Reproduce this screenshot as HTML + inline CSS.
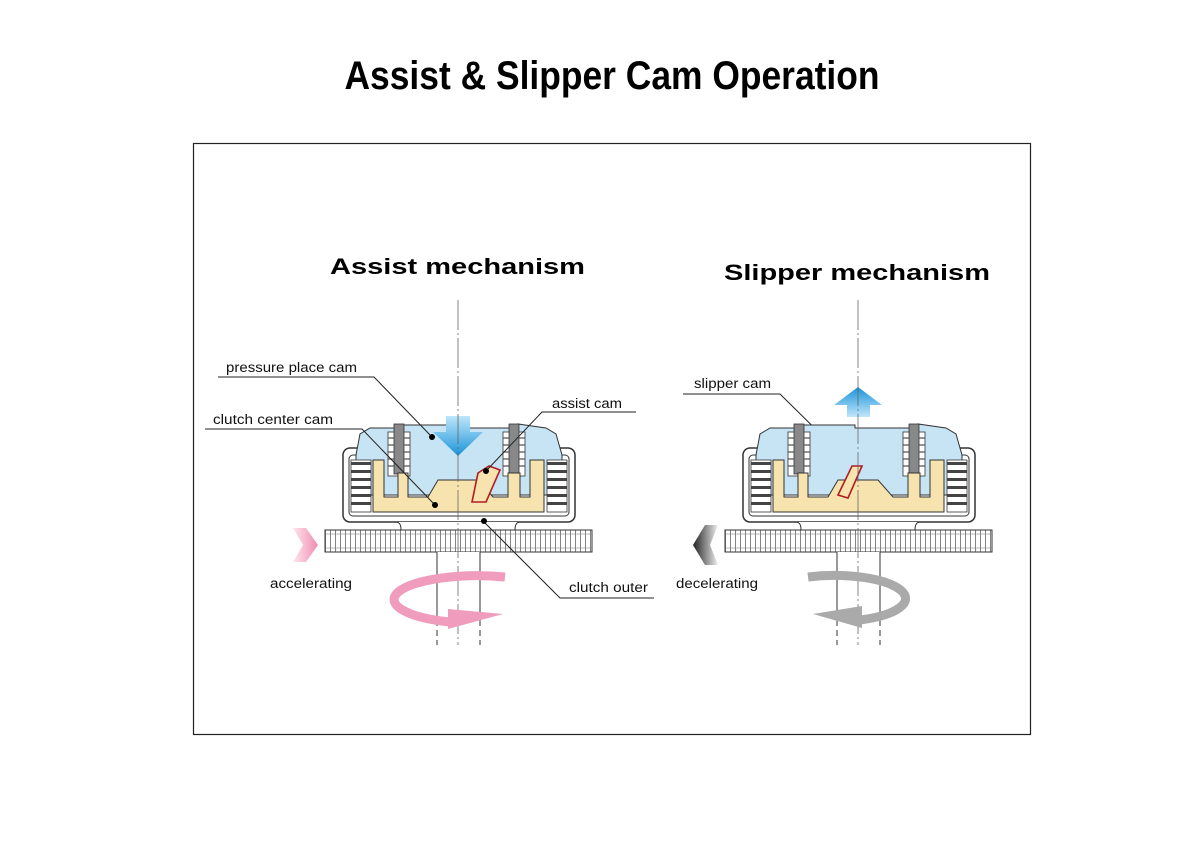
<!DOCTYPE html>
<html><head><meta charset="utf-8"><style>
html,body{margin:0;padding:0;background:#fff;}
svg{display:block;}
text{font-family:"Liberation Sans",sans-serif;}
</style></head><body>
<svg width="1200" height="855" viewBox="0 0 1200 855" xmlns="http://www.w3.org/2000/svg">
<defs>
<pattern id="teeth" x="0" y="0" width="5" height="10" patternUnits="userSpaceOnUse">
<line x1="2.5" y1="0" x2="2.5" y2="10" stroke="#666" stroke-width="0.8"/>
</pattern>
<linearGradient id="bl" x1="0" y1="0" x2="0" y2="1"><stop offset="0" stop-color="#bfe6fb"/><stop offset="1" stop-color="#1a93d8"/></linearGradient>
<linearGradient id="blu" x1="0" y1="1" x2="0" y2="0"><stop offset="0" stop-color="#bfe6fb"/><stop offset="1" stop-color="#1a93d8"/></linearGradient>
<linearGradient id="pk" x1="0" y1="0" x2="1" y2="0"><stop offset="0" stop-color="#fde6ee"/><stop offset="1" stop-color="#f08cb0"/></linearGradient>
<linearGradient id="gr" x1="1" y1="0" x2="0" y2="0"><stop offset="0" stop-color="#eee"/><stop offset="1" stop-color="#222"/></linearGradient>
<g id="clutch">
  <!-- shell -->
  <rect x="-115" y="448" width="232" height="74" rx="7" fill="#fff" stroke="#333" stroke-width="1.5"/>
  <rect x="-109" y="455" width="220" height="61" rx="4" fill="#fff" stroke="#333" stroke-width="1"/>
  <!-- blue plate -->
  <path d="M-102 455 L-98 434 L-88 428 L-62 428 L-62 425 L-3 425 L-3 428 L60 428 L60 424 L88 428 L98 434 L104 455 L104 495 L-102 495 Z" fill="#c7e4f4" stroke="#333" stroke-width="1"/>
  <!-- friction plates -->
  <g stroke="#333" stroke-width="0.8">
    <rect x="-107" y="460" width="20" height="52" fill="#fff"/>
    <rect x="89" y="460" width="20" height="52" fill="#fff"/>
  </g>
  <g fill="#444">
    <rect x="-107" y="462" width="20" height="3"/><rect x="-107" y="470" width="20" height="3"/><rect x="-107" y="478" width="20" height="3"/><rect x="-107" y="486" width="20" height="3"/><rect x="-107" y="494" width="20" height="3"/><rect x="-107" y="502" width="20" height="3"/>
    <rect x="89" y="462" width="20" height="3"/><rect x="89" y="470" width="20" height="3"/><rect x="89" y="478" width="20" height="3"/><rect x="89" y="486" width="20" height="3"/><rect x="89" y="494" width="20" height="3"/><rect x="89" y="502" width="20" height="3"/>
  </g>
  <!-- springs -->
  <g stroke="#333" stroke-width="0.8">
    <rect x="-70" y="432" width="22" height="44" fill="#fff"/>
    <rect x="-64" y="424" width="10" height="50" fill="#888"/>
    <rect x="45" y="432" width="22" height="44" fill="#fff"/>
    <rect x="51" y="424" width="10" height="50" fill="#888"/>
  </g>
  <g fill="none" stroke="#555" stroke-width="1.2">
    <path d="M-70 438h6M-70 445h6M-70 452h6M-70 459h6M-70 466h6M-54 438h6M-54 445h6M-54 452h6M-54 459h6M-54 466h6"/>
    <path d="M45 438h6M45 445h6M45 452h6M45 459h6M45 466h6M61 438h6M61 445h6M61 452h6M61 459h6M61 466h6"/>
  </g>
  <!-- yellow center -->
  <path d="M-85 460 L-74 460 L-74 497 L-60 497 L-60 473 L-50 473 L-50 497 L-30 497 L-20 480 L20 480 L35 497 L50 497 L50 473 L62 473 L62 497 L72 497 L72 460 L86 460 L86 512 L-85 512 Z" fill="#f6e3ad" stroke="#333" stroke-width="1"/>
  <!-- neck -->
  <path d="M-62 522 Q-57 522 -57 530 L57 530 Q57 522 62 522" fill="#fff" stroke="#333" stroke-width="1"/>
  <!-- gear -->
  <rect x="-133" y="530" width="267" height="22" fill="url(#teeth)" stroke="#333" stroke-width="1"/>
  <line x1="-133" y1="534" x2="134" y2="534" stroke="#777" stroke-width="0.6"/>
  <line x1="-133" y1="548" x2="134" y2="548" stroke="#777" stroke-width="0.6"/>
  <!-- shaft -->
  <rect x="-21" y="552" width="43" height="68" fill="#fff" stroke="none"/>
  <line x1="-21" y1="552" x2="-21" y2="620" stroke="#333" stroke-width="1"/>
  <line x1="22" y1="552" x2="22" y2="620" stroke="#333" stroke-width="1"/>
  <line x1="-21" y1="620" x2="-21" y2="645" stroke="#333" stroke-width="1" stroke-dasharray="6,4"/>
  <line x1="22" y1="620" x2="22" y2="645" stroke="#333" stroke-width="1" stroke-dasharray="6,4"/>
</g>
</defs>

<text x="612" y="89" font-size="40" font-weight="bold" text-anchor="middle" textLength="535" lengthAdjust="spacingAndGlyphs">Assist &amp; Slipper Cam Operation</text>

<rect x="193.5" y="143.5" width="837" height="591" fill="none" stroke="#222" stroke-width="1.2"/>

<text x="330" y="274" font-size="22" font-weight="bold" textLength="255" lengthAdjust="spacingAndGlyphs">Assist mechanism</text>
<text x="724" y="280" font-size="22" font-weight="bold" textLength="266" lengthAdjust="spacingAndGlyphs">Slipper mechanism</text>

<!-- LEFT -->
<use href="#clutch" x="458"/>
<!-- assist cam red -->
<path d="M478 473 L489 466 L500 470 L486 502 L472 502 Z" fill="#f6e3ad" stroke="#b01e23" stroke-width="1.6"/>
<!-- blue down arrow -->
<path d="M446 416 L470 416 L470 432 L483 432 L458 456 L433 432 L446 432 Z" fill="url(#bl)"/>
<!-- center line -->
<line x1="458" y1="300" x2="458" y2="645" stroke="#666" stroke-width="0.8" stroke-dasharray="30,3,2,3"/>
<!-- pink arrow -->
<path d="M293 528 L306 528 L318 545 L306 562 L293 562 L303 545 Z" fill="url(#pk)"/>
<!-- pink rotation -->
<path d="M505 577 A70 20 0 1 0 450 622" fill="none" stroke="#f09cbc" stroke-width="9"/>
<path d="M448 609 L503 614 L448 629 Z" fill="#f09cbc"/>

<!-- labels left -->
<g font-size="13.5" fill="#111">
<text x="226" y="372" textLength="131" lengthAdjust="spacingAndGlyphs">pressure place cam</text>
<text x="213" y="424" textLength="120" lengthAdjust="spacingAndGlyphs">clutch center cam</text>
<text x="552" y="408" textLength="70" lengthAdjust="spacingAndGlyphs">assist cam</text>
<text x="569" y="592" textLength="79" lengthAdjust="spacingAndGlyphs">clutch outer</text>
<text x="270" y="588" textLength="82" lengthAdjust="spacingAndGlyphs">accelerating</text>
<text x="676" y="588" textLength="82" lengthAdjust="spacingAndGlyphs">decelerating</text>
<text x="694" y="388" textLength="77" lengthAdjust="spacingAndGlyphs">slipper cam</text>
</g>
<g stroke="#222" stroke-width="1" fill="none">
<polyline points="218,377 374,377 432,437"/>
<polyline points="205,429 362,429 435,505"/>
<polyline points="636,412 542,412 486,471"/>
<polyline points="654,598 560,598 484,522"/>
<polyline points="683,394 780,394 852,465"/>
</g>
<g fill="#000">
<circle cx="432" cy="437" r="3"/><circle cx="435" cy="505" r="3"/><circle cx="486" cy="471" r="3"/><circle cx="484" cy="521" r="3"/><circle cx="852" cy="465" r="3"/>
</g>

<!-- RIGHT -->
<use href="#clutch" x="858"/>
<path d="M838 495 L852 466 L862 466 L848 498 Z" fill="#f6e3ad" stroke="#b01e23" stroke-width="1.6"/>
<path d="M847 417 L870 417 L870 405 L882 405 L858 387 L834 405 L847 405 Z" fill="url(#blu)"/>
<line x1="858" y1="300" x2="858" y2="645" stroke="#666" stroke-width="0.8" stroke-dasharray="30,3,2,3"/>
<path d="M718 525 L705 525 L693 545 L705 565 L718 565 L710 545 Z" fill="url(#gr)"/>
<path d="M808 577 A62 20 0 1 1 860 620" fill="none" stroke="#aaa" stroke-width="9"/>
<path d="M862 606 L813 614 L862 628 Z" fill="#aaa"/>
</svg>
</body></html>
